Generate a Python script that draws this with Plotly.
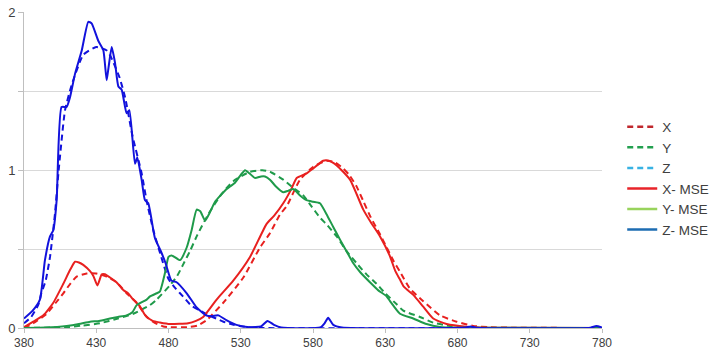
import plotly.graph_objects as go

# ---- data ----
x_dashed_wl = [380, 386.4, 395.7, 402, 407.2, 412, 416.4, 423.4, 430, 437.2, 444, 451, 458, 464.9, 470,
               476.4, 481, 493, 500, 506.4, 517.9, 531.8, 543.3, 550.2, 557.2, 561.7, 571, 580, 589.4,
               595, 601, 605, 610, 615, 620, 626, 631, 636, 640, 647, 656.3, 667.9, 679.4, 690.9, 702,
               720, 780]
x_dashed_val = [0.0, 0.03, 0.09, 0.16, 0.22, 0.28, 0.325, 0.345, 0.345, 0.325, 0.29, 0.22, 0.16, 0.07,
                0.035, 0.01, 0.005, 0.005, 0.015, 0.05, 0.16, 0.32, 0.51, 0.60, 0.72, 0.77, 0.94, 1.02,
                1.06, 1.05, 1.01, 0.97, 0.90, 0.80, 0.70, 0.60, 0.51, 0.42, 0.36, 0.25, 0.17, 0.08, 0.04,
                0.013, 0.005, 0.002, 0.0]

y_dashed_wl = [380, 409.5, 420, 432.6, 445, 455.6, 467.2, 471.8, 481, 486, 490, 495, 500, 507.5, 516.8,
               524.8, 536.4, 545, 550.2, 559.4, 566, 573.3, 579, 584.8, 590, 596.4, 603, 610.2, 617, 624,
               630, 637.9, 642.5, 654, 663.2, 674.8, 685, 700, 780]
y_dashed_val = [0.0, 0.005, 0.015, 0.03, 0.06, 0.09, 0.145, 0.18, 0.27, 0.33, 0.40, 0.49, 0.59, 0.72,
                0.85, 0.93, 0.99, 1.0, 0.99, 0.94, 0.89, 0.84, 0.77, 0.70, 0.65, 0.58, 0.49, 0.41, 0.34,
                0.28, 0.22, 0.15, 0.11, 0.07, 0.034, 0.013, 0.003, 0.0, 0.0]

z_dashed_wl = [380, 385, 390, 392, 395, 398, 401.5, 403.8, 408.4, 413, 421, 430, 437, 440, 446, 450, 455,
               461.4, 465, 469.5, 475, 480, 485, 490, 496, 502, 508, 513, 518, 525, 535, 545, 780]
z_dashed_val = [0.03, 0.07, 0.15, 0.22, 0.30, 0.45, 0.73, 0.98, 1.38, 1.54, 1.73, 1.78, 1.76, 1.72, 1.59,
                1.46, 1.22, 0.98, 0.80, 0.62, 0.45, 0.31, 0.25, 0.20, 0.14, 0.11, 0.08, 0.06, 0.04, 0.02,
                0.005, 0.0, 0.0]

x_mse_wl = [380, 386.4, 393.4, 400.3, 407.2, 412, 415.3, 418, 421, 425.7, 428, 430.8, 433.8, 436, 439.5,
            444, 448.7, 452, 455.6, 460, 464, 469, 474, 481, 493.6, 499, 504, 513.3, 524.8, 536.4, 547.9,
            553, 559.4, 565, 568.7, 575.6, 580, 587, 591, 596.4, 605.6, 614.8, 620, 626.4, 633, 637, 640,
            643, 649.4, 656.3, 663.2, 672.5, 686, 700, 780]
x_mse_val = [0.005, 0.04, 0.08, 0.16, 0.28, 0.37, 0.42, 0.415, 0.40, 0.36, 0.33, 0.27, 0.34, 0.34, 0.32,
             0.29, 0.24, 0.22, 0.18, 0.14, 0.08, 0.045, 0.035, 0.025, 0.03, 0.045, 0.07, 0.18, 0.30, 0.45,
             0.66, 0.71, 0.79, 0.88, 0.95, 0.98, 1.01, 1.06, 1.06, 1.03, 0.94, 0.75, 0.67, 0.58, 0.46,
             0.36, 0.31, 0.26, 0.21, 0.135, 0.06, 0.025, 0.008, 0.002, 0.0]

y_mse_wl = [380, 395, 409.5, 418, 425.7, 432, 439.5, 445, 451, 455, 458, 464.9, 467.2, 471.8, 474, 477.6,
            480, 482.2, 488, 492.6, 496, 499.5, 502, 505.3, 508, 512.2, 516, 520.3, 526, 530, 533, 536,
            539.9, 544, 546.8, 550.2, 554, 559.4, 563, 566.4, 571, 575.6, 580, 584.8, 590, 594, 598.7,
            603, 607.9, 613, 619.4, 625, 631, 633.3, 640.2, 649.4, 658.6, 667.9, 680, 780]
y_mse_val = [0.0, 0.003, 0.013, 0.025, 0.04, 0.045, 0.06, 0.07, 0.08, 0.10, 0.145, 0.18, 0.20, 0.22,
             0.23, 0.35, 0.45, 0.46, 0.43, 0.51, 0.62, 0.75, 0.74, 0.68, 0.72, 0.80, 0.84, 0.88, 0.92,
             0.97, 1.0, 0.98, 0.95, 0.96, 0.96, 0.94, 0.90, 0.86, 0.87, 0.88, 0.84, 0.81, 0.80, 0.79,
             0.71, 0.64, 0.56, 0.49, 0.41, 0.35, 0.29, 0.24, 0.20, 0.17, 0.09, 0.06, 0.025, 0.007,
             0.002, 0.0]

z_mse_wl = [380, 386, 391, 394.5, 398, 400.3, 402.6, 406, 409.5, 411.8, 415.3, 420, 424.5, 426.8, 431.4,
            434.9, 437.2, 438.5, 440.7, 443, 445.3, 447.6, 451, 452.9, 456.8, 458.4, 461.4, 463.7, 466,
            470.6, 475, 478, 482, 485.6, 492.6, 499.5, 506, 510, 514.5, 520, 527, 536, 544, 548.5, 553,
            558, 585, 588, 590.5, 594, 600, 685, 689, 693, 772, 776, 780]
z_mse_val = [0.06, 0.11, 0.18, 0.43, 0.58, 0.62, 0.81, 1.40, 1.40, 1.46, 1.61, 1.76, 1.94, 1.93, 1.82,
             1.76, 1.57, 1.65, 1.78, 1.68, 1.53, 1.51, 1.36, 1.38, 1.04, 1.08, 0.94, 0.81, 0.79, 0.57,
             0.48, 0.41, 0.30, 0.29, 0.22, 0.13, 0.08, 0.075, 0.08, 0.05, 0.02, 0.005, 0.01, 0.045,
             0.02, 0.003, 0.003, 0.03, 0.065, 0.02, 0.003, 0.003, 0.01, 0.002, 0.002, 0.012, 0.003]

legend_names = ["X", "Y", "Z", "X- MSE", "Y- MSE", "Z- MSE"]
legend_colors = ["#c0282d", "#23a04f", "#38b2e3", "#e8242a", "#98d35c", "#1d6cb2"]
legend_dashes = ["6px,4px", "6px,4px", "6px,4px", "solid", "solid", "solid"]

y_tickvals = [0, 0.5, 1, 1.5, 2]
y_ticktext = ["0", "", "1", "", "2"]
x_tickvals = [380, 430, 480, 530, 580, 630, 680, 730, 780]

RED, GREEN, BLUE = "#e8201f", "#1f9a4a", "#1212dc"

fig = go.Figure()
series = [
    (x_dashed_wl, x_dashed_val, RED, "6px,4px"),
    (y_dashed_wl, y_dashed_val, GREEN, "6px,4px"),
    (z_dashed_wl, z_dashed_val, BLUE, "6px,4px"),
    (x_mse_wl, x_mse_val, RED, "solid"),
    (y_mse_wl, y_mse_val, GREEN, "solid"),
    (z_mse_wl, z_mse_val, BLUE, "solid"),
]
for xs, ys, col, dash in series:
    fig.add_trace(go.Scatter(x=xs, y=ys, mode="lines", showlegend=False,
                             line=dict(color=col, width=2, dash=dash, shape="spline", smoothing=0.5),
                             hoverinfo="skip"))

for name, col, dash in zip(legend_names, legend_colors, legend_dashes):
    fig.add_trace(go.Scatter(x=[None], y=[None], mode="lines", name=name,
                             line=dict(color=col, width=2.5, dash=dash)))

fig.update_layout(
    width=717, height=360,
    margin=dict(l=24, r=115, t=12, b=32, autoexpand=False),
    paper_bgcolor="white", plot_bgcolor="white",
    font=dict(family="Liberation Sans, Arial, sans-serif", size=12, color="#404040"),
    legend=dict(x=1.035, y=0.685, xanchor="left", yanchor="top",
                font=dict(size=13.5, color="#404040"), tracegroupgap=0,
                bgcolor="rgba(0,0,0,0)"),
    xaxis=dict(range=[380, 780], tickvals=x_tickvals, showgrid=False, automargin=False,
               showline=True, linecolor="#bfbfbf", linewidth=1, ticks="outside",
               ticklen=4, tickcolor="#bfbfbf", zeroline=False,
               tickfont=dict(size=12, color="#404040")),
    yaxis=dict(range=[0, 2.002], tickvals=y_tickvals, ticktext=y_ticktext, showgrid=True,
               automargin=False, ticklabeloverflow="allow",
               gridcolor="#d9d9d9", gridwidth=1, showline=True, linecolor="#bfbfbf",
               linewidth=1, ticks="outside", ticklen=5, tickcolor="#bfbfbf", zeroline=False,
               tickfont=dict(size=13, color="#404040")),
)

# remove the default 8px page margin so the figure sits at the window's top-left corner
fig.write_html("out.html", config={"displayModeBar": False},
               post_script="document.body.style.margin='0';document.body.style.overflow='hidden';")
